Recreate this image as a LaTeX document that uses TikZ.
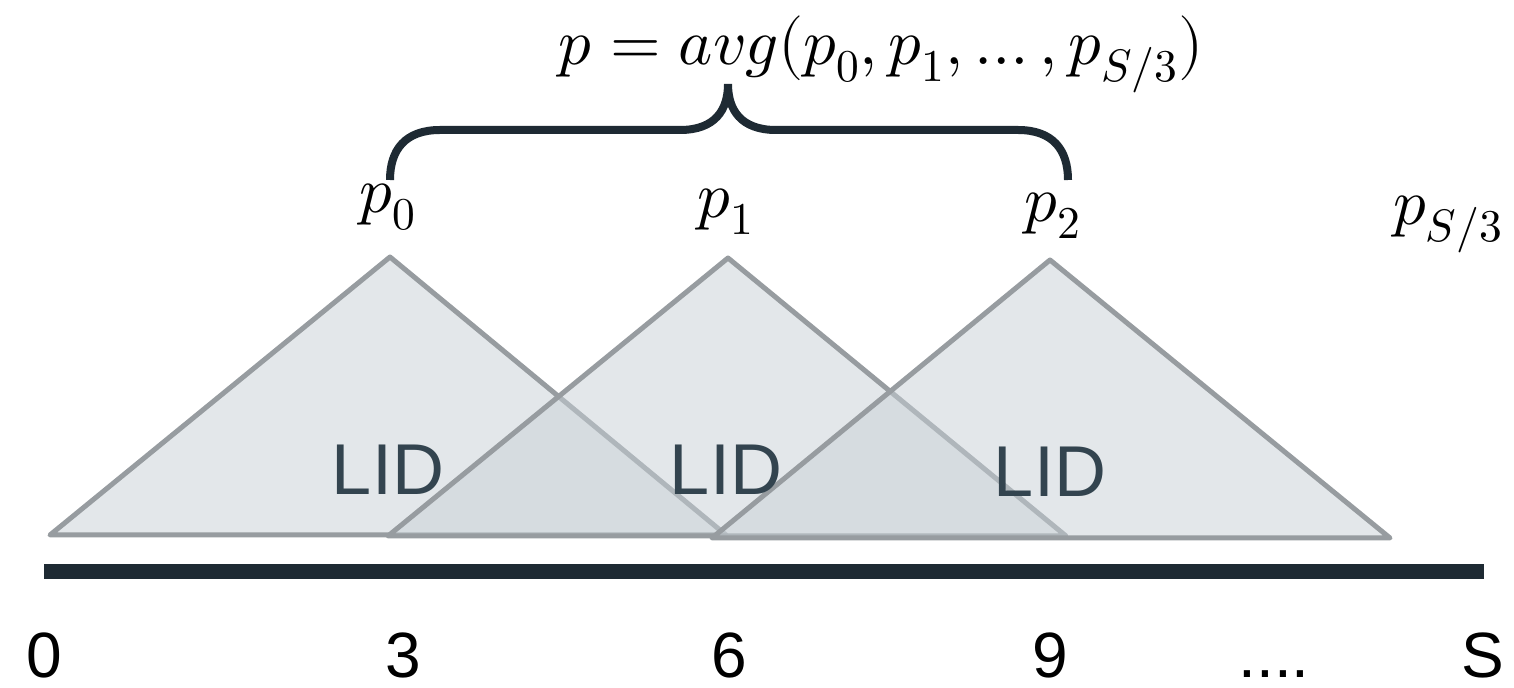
\documentclass[tikz,border=0pt]{standalone}
\usepackage{fontspec}
\usepackage{unicode-math}
\setmainfont{Liberation Sans}
\begin{document}
\begin{tikzpicture}[x=0.5pt,y=-0.5pt,
  tri/.style={draw=edgegray, line width=2.5pt, line join=round, fill=trifill, fill opacity=0.5},
  lidtext/.style={text=lidcol, font=\fontsize{36}{40}\selectfont, anchor=base, inner sep=0pt},
  plabel/.style={font=\fontsize{32.5}{38}\selectfont, anchor=base, inner sep=0pt},
  ticklabel/.style={font=\fontsize{32}{36}\selectfont, anchor=base, inner sep=0pt},
  bracecol/.style={draw=darknavy, line width=4pt}
]
\definecolor{edgegray}{HTML}{979CA0}
\definecolor{trifill}{HTML}{C8D0D6}
\definecolor{lidcol}{HTML}{33444F}
\definecolor{darknavy}{HTML}{1E2A33}
\useasboundingbox (0,0) rectangle (1514,688);

% triangles
\coordinate (a1) at (50,535); \coordinate (t1) at (390,257); \coordinate (b1) at (726,535);
\coordinate (a2) at (388,536); \coordinate (t2) at (728,258); \coordinate (b2) at (1066,536);
\coordinate (a3) at (712,538); \coordinate (t3) at (1050,260); \coordinate (b3) at (1390,538);
\draw[tri] (a1) -- (t1) -- (b1) -- cycle;
\draw[tri] (a2) -- (t2) -- (b2) -- cycle;
\draw[tri] (a3) -- (t3) -- (b3) -- cycle;

\node[lidtext] (lid1) at (388,495) {LID};
\node[lidtext] (lid2) at (726,495) {LID};
\node[lidtext] (lid3) at (1050,497) {LID};

% axis
\coordinate (ax0) at (44,572);
\coordinate (ax1) at (1484,572);
\draw[darknavy, line width=7.5pt] (ax0) -- (ax1);

% tick labels
\node[ticklabel] (n0) at (44,677) {0};
\node[ticklabel] (n3) at (403,677) {3};
\node[ticklabel] (n6) at (729,677) {6};
\node[ticklabel] (n9) at (1050,677) {9};
\node[ticklabel] (ndots) at (1274,677) {....};
\node[ticklabel] (nS) at (1483,677) {S};

% p labels
\node[plabel] (p0) at (388,213) {$p_0$};
\node[plabel] (p1) at (726,218) {$p_1$};
\node[plabel] (p2) at (1053,222) {$p_2$};
\node[plabel] (pS) at (1448,225) {$p_{S/3}$};

% formula
\node[plabel] (avg) at (881,65) {$p = avg(p_0, p_1, \ldots, p_{S/3})$};

% brace
\coordinate (bl) at (390,180);
\coordinate (btip) at (728,84);
\coordinate (br) at (1068,180);
\draw[bracecol] (bl) .. controls (390,150) and (405,130) .. (440,130) -- (680,130)
  .. controls (715,130) and (728,110) .. (btip)
  .. controls (728,110) and (741,130) .. (776,130) -- (1018,130)
  .. controls (1053,130) and (1068,150) .. (br);
\end{tikzpicture}
\end{document}
